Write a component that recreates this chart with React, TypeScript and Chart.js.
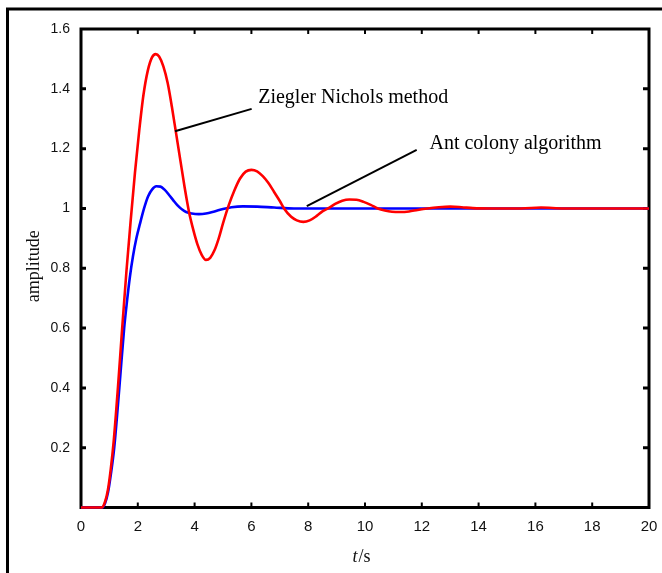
import React, { useEffect, useRef } from "react";
import { Chart, registerables } from "chart.js";

Chart.register(...registerables);

// Ziegler Nichols method response (red)
const timeZN = [0, 0.73, 0.85, 0.95, 1.05, 1.15, 1.3, 1.45, 1.6, 1.75, 1.9, 2.05, 2.2, 2.35, 2.5, 2.63, 2.75, 2.9, 3.05, 3.2, 3.35, 3.5, 3.65, 3.8, 3.95, 4.1, 4.25, 4.4, 4.55, 4.7, 4.85, 5.0, 5.2, 5.4, 5.6, 5.8, 6.0, 6.2, 6.4, 6.6, 6.8, 7.0, 7.15, 7.4, 7.6, 7.83, 8.05, 8.3, 8.5, 8.7, 8.95, 9.2, 9.45, 9.7, 9.95, 10.2, 10.45, 10.7, 10.95, 11.25, 11.55, 11.85, 12.2, 12.6, 13.0, 13.4, 13.8, 14.5, 15.5, 16.2, 17.0, 18.5, 20];
const ampZN = [0, 0, 0.02, 0.06, 0.13, 0.22, 0.4, 0.6, 0.79, 0.96, 1.12, 1.26, 1.38, 1.46, 1.505, 1.516, 1.508, 1.475, 1.42, 1.34, 1.25, 1.16, 1.07, 0.99, 0.93, 0.88, 0.845, 0.828, 0.835, 0.86, 0.9, 0.95, 1.01, 1.06, 1.1, 1.123, 1.129, 1.124, 1.108, 1.085, 1.055, 1.025, 1.0, 0.972, 0.96, 0.955, 0.96, 0.975, 0.99, 1.0, 1.015, 1.026, 1.03, 1.029, 1.022, 1.012, 1.0, 0.993, 0.989, 0.988, 0.99, 0.995, 1.0, 1.004, 1.006, 1.004, 1.001, 1.0, 1.0, 1.003, 1.0, 1.0, 1.0];

// Ant colony algorithm response (blue)
const timeACO = [0, 0.75, 0.85, 0.95, 1.05, 1.17, 1.35, 1.52, 1.62, 1.72, 1.83, 1.95, 2.08, 2.22, 2.36, 2.5, 2.65, 2.8, 2.95, 3.1, 3.25, 3.4, 3.55, 3.7, 3.9, 4.15, 4.4, 4.7, 5.0, 5.3, 5.7, 6.2, 6.8, 7.5, 10, 15, 20];
const ampACO = [0, 0, 0.015, 0.05, 0.11, 0.2, 0.4, 0.6, 0.69, 0.77, 0.84, 0.9, 0.95, 1.0, 1.04, 1.063, 1.074, 1.073, 1.062, 1.045, 1.027, 1.01, 0.997, 0.988, 0.983, 0.981, 0.983, 0.99, 0.998, 1.004, 1.007, 1.006, 1.003, 1.0, 1.0, 1.0, 1.0];

const xTicks = [0, 2, 4, 6, 8, 10, 12, 14, 16, 18, 20];
const yTicks = [0.2, 0.4, 0.6, 0.8, 1, 1.2, 1.4, 1.6];
const yTickLabels = ["0.2", "0.4", "0.6", "0.8", "1", "1.2", "1.4", "1.6"];

const seriesNames = ["Ziegler Nichols method", "Ant colony algorithm"];
// annotation anchors in data coordinates: [textX, textY, lineStartX, lineStartY, lineEndX, lineEndY]
const annZN = [6.24, 1.351, 3.31, 1.258, 6.01, 1.333];
const annACO = [12.27, 1.2, 7.95, 1.008, 11.82, 1.196];

const framePlugin = {
  id: "frame",
  beforeDatasetsDraw(chart: any) {
    const { ctx, chartArea: a, scales } = chart;
    const xs = scales.x;
    const ys = scales.y;
    ctx.save();
    ctx.strokeStyle = "#000";
    ctx.lineWidth = 3;
    ctx.beginPath();
    ctx.moveTo(7.5, 573);
    ctx.lineTo(7.5, 9);
    ctx.lineTo(662, 9);
    ctx.stroke();
    ctx.lineWidth = 3;
    ctx.strokeRect(a.left, a.top, a.right - a.left, a.bottom - a.top);
    ctx.lineWidth = 2;
    xTicks.forEach((t) => {
      if (t === 0 || t === 20) return;
      const px = xs.getPixelForValue(t);
      ctx.beginPath();
      ctx.moveTo(px, a.bottom);
      ctx.lineTo(px, a.bottom - 5);
      ctx.moveTo(px, a.top);
      ctx.lineTo(px, a.top + 5);
      ctx.stroke();
    });
    ctx.lineWidth = 3;
    yTicks.forEach((v) => {
      if (v === 1.6) return;
      const py = ys.getPixelForValue(v);
      ctx.beginPath();
      ctx.moveTo(a.left, py);
      ctx.lineTo(a.left + 5, py);
      ctx.moveTo(a.right, py);
      ctx.lineTo(a.right - 6, py);
      ctx.stroke();
    });
    ctx.restore();
  },
  afterDraw(chart: any) {
    const { ctx, chartArea: a, scales } = chart;
    const xs = scales.x;
    const ys = scales.y;
    ctx.save();
    ctx.fillStyle = "#000";
    ctx.strokeStyle = "#000";
    ctx.lineWidth = 2;
    const drawAnn = (ann: number[], label: string) => {
      ctx.beginPath();
      ctx.moveTo(xs.getPixelForValue(ann[2]), ys.getPixelForValue(ann[3]));
      ctx.lineTo(xs.getPixelForValue(ann[4]), ys.getPixelForValue(ann[5]));
      ctx.stroke();
      ctx.font = '20px "Liberation Serif"';
      ctx.textAlign = "left";
      ctx.textBaseline = "alphabetic";
      ctx.fillText(label, xs.getPixelForValue(ann[0]), ys.getPixelForValue(ann[1]));
    };
    drawAnn(annZN, seriesNames[0]);
    drawAnn(annACO, seriesNames[1]);

    ctx.save();
    ctx.translate(34, (a.top + a.bottom) / 2 - 2);
    ctx.rotate(-Math.PI / 2);
    ctx.font = '18px "Liberation Serif"';
    ctx.textAlign = "center";
    ctx.textBaseline = "middle";
    ctx.fillStyle = "#111";
    ctx.fillText("amplitude", 0, 0);
    ctx.restore();

    ctx.font = 'italic 18px "Liberation Serif"';
    const wT = ctx.measureText("t").width;
    ctx.font = '18px "Liberation Serif"';
    const wS = ctx.measureText("/s").width;
    const cx = xs.getPixelForValue(10) - 4;
    const startX = cx - (wT + wS) / 2;
    const by = 562;
    ctx.textAlign = "left";
    ctx.textBaseline = "alphabetic";
    ctx.fillStyle = "#111";
    ctx.font = 'italic 18px "Liberation Serif"';
    ctx.fillText("t", startX, by);
    ctx.font = '18px "Liberation Serif"';
    ctx.fillText("/s", startX + wT + 1, by);
    ctx.restore();
  },
};

export default function App() {
  const ref = useRef<HTMLCanvasElement>(null);
  useEffect(() => {
    if (!ref.current) return;
    const chart = new Chart(ref.current, {
      type: "line",
      data: {
        datasets: [
          {
            label: seriesNames[0],
            data: timeZN.map((t, i) => ({ x: t, y: ampZN[i] })),
            borderColor: "#ff0000",
            borderWidth: 2.6,
            pointRadius: 0,
            cubicInterpolationMode: "monotone",
            clip: 6,
          },
          {
            label: seriesNames[1],
            data: timeACO.map((t, i) => ({ x: t, y: ampACO[i] })),
            borderColor: "#0000ff",
            borderWidth: 2.6,
            pointRadius: 0,
            cubicInterpolationMode: "monotone",
            clip: 6,
          },
        ],
      },
      options: {
        animation: false,
        responsive: false,
        devicePixelRatio: 1,
        layout: { padding: { left: 0, right: 13, top: 29, bottom: 0 } },
        plugins: { legend: { display: false }, tooltip: { enabled: false } },
        scales: {
          x: {
            type: "linear",
            min: 0,
            max: 20,
            afterFit: (s: any) => {
              s.height = 65.5;
              s.paddingLeft = 0;
              s.paddingRight = 0;
            },
            afterBuildTicks: (s: any) => {
              s.ticks = xTicks.map((v) => ({ value: v }));
            },
            grid: { display: false, drawTicks: false },
            border: { display: false },
            ticks: {
              padding: 10,
              color: "#111",
              font: { family: "Liberation Sans", size: 15 },
              maxRotation: 0,
              callback: (v: any) => String(v),
            },
          },
          y: {
            type: "linear",
            min: 0,
            max: 1.6,
            afterFit: (s: any) => {
              s.width = 81;
              s.paddingTop = 0;
              s.paddingBottom = 0;
            },
            afterBuildTicks: (s: any) => {
              s.ticks = yTicks.map((v) => ({ value: v }));
            },
            grid: { display: false, drawTicks: false },
            border: { display: false },
            ticks: {
              padding: 11,
              color: "#111",
              font: { family: "Liberation Sans", size: 14 },
              callback: (v: any) => {
                const i = yTicks.findIndex((t) => Math.abs(t - v) < 1e-6);
                return i >= 0 ? yTickLabels[i] : "";
              },
            },
          },
        },
      },
      plugins: [framePlugin],
    });
    return () => chart.destroy();
  }, []);
  return (
    <div style={{ position: "fixed", left: 0, top: 0, width: 662, height: 573, background: "#fff" }}>
      <canvas ref={ref} width={662} height={573} style={{ width: 662, height: 573, display: "block" }} />
    </div>
  );
}
